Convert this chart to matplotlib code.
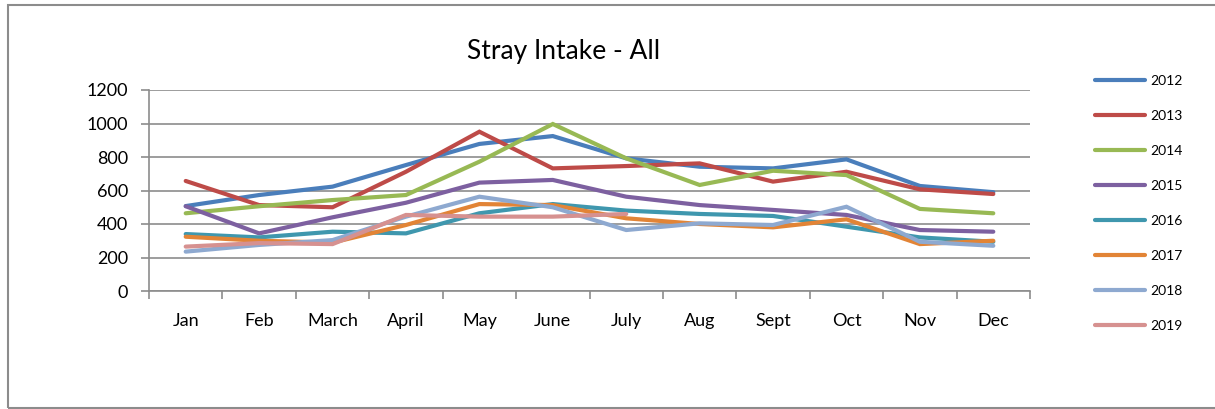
import matplotlib.pyplot as plt
from matplotlib.patches import Rectangle

plt.rcParams['font.family'] = ['Lato', 'DejaVu Sans']

months = ['Jan', 'Feb', 'March', 'April', 'May', 'June', 'July',
          'Aug', 'Sept', 'Oct', 'Nov', 'Dec']

# monthly stray intake per year
y2012 = [507, 573, 623, 752, 878, 925, 792, 742, 732, 786, 627, 590]
y2013 = [657, 513, 500, 712, 951, 732, 746, 762, 653, 712, 607, 579]
y2014 = [464, 506, 543, 573, 772, 997, 792, 633, 718, 692, 490, 464]
y2015 = [506, 344, 440, 527, 647, 663, 563, 513, 484, 454, 364, 354]
y2016 = [340, 320, 354, 344, 464, 519, 480, 460, 448, 384, 320, 294]
y2017 = [324, 300, 289, 394, 519, 513, 434, 400, 380, 428, 280, 300]
y2018 = [235, 275, 304, 444, 563, 500, 364, 404, 394, 503, 294, 270]
y2019 = [265, 286, 280, 454, 444, 444, 460]

series = [
    ('2012', y2012, '#4A7EBB'),
    ('2013', y2013, '#BE4B48'),
    ('2014', y2014, '#98B954'),
    ('2015', y2015, '#7D60A0'),
    ('2016', y2016, '#3F97AE'),
    ('2017', y2017, '#E28436'),
    ('2018', y2018, '#8EA9D0'),
    ('2019', y2019, '#D69190'),
]

W, H = 1215, 409
fig = plt.figure(figsize=(W / 100, H / 100), dpi=100)
ax = fig.add_axes([149 / W, 1 - 291 / H, (1030 - 149) / W, (291 - 90) / H])

# outer chart border
fig.patches.append(Rectangle((8 / W, 1 - 408 / H), 1.2, (408 - 5) / H,
                             transform=fig.transFigure, fill=False,
                             edgecolor='#8c8c8c', linewidth=1.5))

for name, vals, col in series:
    ax.plot(range(len(vals)), vals, color=col, lw=3.0, label=name,
            solid_capstyle='round', solid_joinstyle='miter')

ax.set_xlim(-0.5, 11.5)
ax.set_ylim(0, 1200)
ax.set_yticks(range(0, 1201, 200))
ax.set_xticks(range(12))
ax.set_xticklabels(months)
ax.set_xticks([i - 0.5 for i in range(13)], minor=True)
ax.tick_params(axis='x', which='major', length=0, pad=15.5, labelsize=13)
ax.tick_params(axis='x', which='minor', length=6, width=1.2, color='#8c8c8c')
ax.tick_params(axis='y', length=6, width=1.2, color='#8c8c8c', pad=9, labelsize=13)

ax.yaxis.grid(True, color='#8c8c8c', lw=1.2)
ax.set_axisbelow(True)
for s in ['top', 'right']:
    ax.spines[s].set_visible(False)
for s in ['left', 'bottom']:
    ax.spines[s].set_color('#8c8c8c')
    ax.spines[s].set_linewidth(1.2)

fig.text(564 / W, 1 - 52 / H, 'Stray Intake - All', ha='center', va='center',
         fontsize=19)

fig.legend(loc='upper left', bbox_to_anchor=(1088 / W, 1 - 68 / H),
           frameon=False, borderpad=0, fontsize=10, handlelength=3.6,
           handletextpad=0.4, labelspacing=1.66)

plt.savefig('out.png', dpi=100)
